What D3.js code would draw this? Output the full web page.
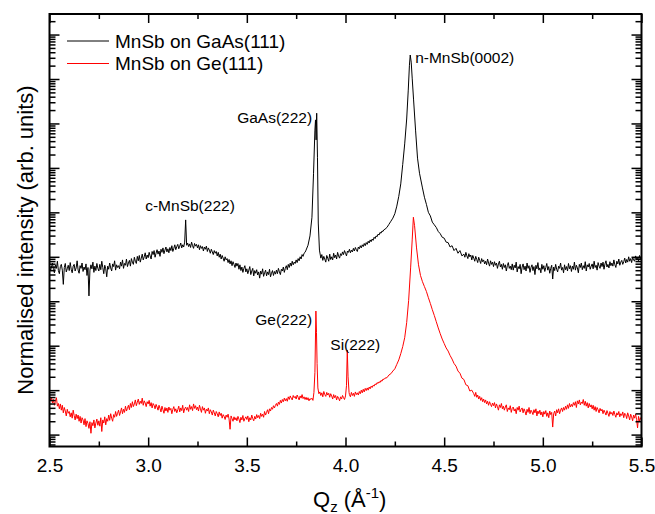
<!DOCTYPE html>
<html>
<head>
<meta charset="utf-8">
<script src="https://cdn.jsdelivr.net/npm/d3@7"></script>
<style>
  body { margin: 0; padding: 0; background: #fff; }
  svg text { font-family: "Liberation Sans", Arial, sans-serif; fill: #000; }
</style>
</head>
<body>
<svg id="chart" width="655" height="514"></svg>
<script>
// scans: [Qz (1/A), log10 of intensity (arb. units)]
var gaasScan = [
  [2.500,3.80],[2.505,3.68],[2.510,3.77],[2.515,3.86],[2.520,3.71],[2.525,3.64],[2.530,3.82],[2.535,3.74],[2.540,3.90],[2.545,3.69],
  [2.550,3.62],[2.555,3.78],[2.560,3.83],[2.565,3.70],[2.570,3.38],[2.575,3.76],[2.580,3.85],[2.585,3.66],[2.590,3.73],[2.595,3.81],
  [2.600,3.69],[2.605,3.87],[2.610,3.72],[2.615,3.64],[2.620,3.79],[2.625,3.83],[2.630,3.68],[2.635,3.75],[2.640,3.91],[2.645,3.70],
  [2.650,3.63],[2.655,3.80],[2.660,3.74],[2.665,3.86],[2.670,3.67],[2.675,3.77],[2.680,3.71],[2.685,3.84],[2.690,3.58],[2.695,3.76],
  [2.700,3.12],[2.705,3.70],[2.710,3.82],[2.715,3.73],[2.720,3.88],[2.725,3.65],[2.730,3.79],[2.735,3.69],[2.740,3.85],[2.745,3.74],
  [2.750,3.68],[2.755,3.83],[2.760,3.71],[2.765,3.90],[2.770,3.76],[2.775,3.62],[2.780,3.81],[2.785,3.73],[2.790,3.55],[2.795,3.79],
  [2.800,3.72],[2.805,3.86],[2.810,3.75],[2.815,3.68],[2.820,3.84],[2.825,3.78],[2.830,3.91],[2.835,3.70],[2.840,3.82],[2.845,3.76],
  [2.850,3.80],[2.855,3.73],[2.860,3.88],[2.865,3.79],[2.870,3.93],[2.875,3.74],[2.880,3.85],[2.885,3.81],[2.890,3.95],[2.895,3.78],
  [2.900,3.86],[2.905,3.92],[2.910,3.79],[2.915,3.96],[2.920,3.88],[2.925,3.83],[2.930,3.99],[2.935,3.90],[2.940,3.85],[2.945,4.01],
  [2.950,3.91],[2.955,4.03],[2.960,3.88],[2.965,3.97],[2.970,4.06],[2.975,3.93],[2.980,4.00],[2.985,4.09],[2.990,3.95],[2.995,4.04],
  [3.000,3.98],[3.005,4.10],[3.010,4.02],[3.015,3.95],[3.020,4.12],[3.025,4.05],[3.030,4.14],[3.035,3.99],[3.040,4.08],[3.045,4.16],
  [3.050,4.06],[3.055,4.13],[3.060,4.01],[3.065,4.17],[3.070,4.10],[3.075,4.20],[3.080,4.07],[3.085,4.15],[3.090,4.22],[3.095,4.11],
  [3.100,4.18],[3.105,4.09],[3.110,4.21],[3.115,4.14],[3.120,4.25],[3.125,4.12],[3.130,4.19],[3.135,4.27],[3.140,4.16],[3.145,4.23],
  [3.150,4.28],[3.155,4.18],[3.160,4.24],[3.165,4.31],[3.170,4.20],[3.175,4.27],[3.180,4.22],[3.185,4.33],[3.190,4.83],[3.195,4.26],
  [3.200,4.31],[3.205,4.23],[3.210,4.29],[3.215,4.21],[3.220,4.33],[3.225,4.25],[3.230,4.19],[3.235,4.30],[3.240,4.24],[3.245,4.28],
  [3.250,4.20],[3.255,4.27],[3.260,4.16],[3.265,4.25],[3.270,4.19],[3.275,4.23],[3.280,4.13],[3.285,4.22],[3.290,4.17],[3.295,4.24],
  [3.300,4.12],[3.305,4.20],[3.310,4.15],[3.315,4.08],[3.320,4.17],[3.325,4.11],[3.330,4.05],[3.335,4.14],[3.340,4.08],[3.345,4.12],
  [3.350,4.02],[3.355,4.10],[3.360,3.99],[3.365,4.06],[3.370,3.95],[3.375,4.03],[3.380,3.97],[3.385,3.90],[3.390,4.00],[3.395,3.93],
  [3.400,3.96],[3.405,3.87],[3.410,3.94],[3.415,3.84],[3.420,3.91],[3.425,3.80],[3.430,3.89],[3.435,3.83],[3.440,3.76],[3.445,3.86],
  [3.450,3.79],[3.455,3.85],[3.460,3.72],[3.465,3.82],[3.470,3.69],[3.475,3.77],[3.480,3.65],[3.485,3.74],[3.490,3.80],[3.495,3.66],
  [3.500,3.73],[3.505,3.62],[3.510,3.70],[3.515,3.78],[3.520,3.60],[3.525,3.68],[3.530,3.74],[3.535,3.57],[3.540,3.69],[3.545,3.63],
  [3.550,3.71],[3.555,3.59],[3.560,3.66],[3.565,3.52],[3.570,3.68],[3.575,3.61],[3.580,3.73],[3.585,3.56],[3.590,3.64],[3.595,3.70],
  [3.600,3.57],[3.605,3.66],[3.610,3.60],[3.615,3.72],[3.620,3.55],[3.625,3.63],[3.630,3.69],[3.635,3.58],[3.640,3.67],[3.645,3.61],
  [3.650,3.70],[3.655,3.62],[3.660,3.74],[3.665,3.66],[3.670,3.60],[3.675,3.72],[3.680,3.68],[3.685,3.77],[3.690,3.65],[3.695,3.74],
  [3.700,3.80],[3.705,3.71],[3.710,3.83],[3.715,3.76],[3.720,3.86],[3.725,3.79],[3.730,3.90],[3.735,3.82],[3.740,3.88],[3.745,3.85],
  [3.750,3.93],[3.755,3.87],[3.760,3.96],[3.765,3.91],[3.770,4.00],[3.775,3.95],[3.780,4.05],[3.785,4.01],[3.790,4.08],[3.795,4.10],
  [3.800,4.15],[3.810,4.26],[3.820,4.47],[3.830,4.89],[3.838,5.88],[3.845,6.85],[3.848,7.08],[3.851,6.63],[3.854,7.23],[3.858,6.24],
  [3.862,4.76],[3.868,4.15],[3.875,3.97],
  [3.880,4.05],[3.885,3.92],[3.890,4.01],[3.895,3.95],[3.900,3.88],[3.905,4.03],[3.910,3.97],[3.915,3.90],[3.920,4.06],[3.925,3.94],
  [3.930,4.00],[3.935,3.93],[3.940,4.08],[3.945,3.98],[3.950,4.04],[3.955,3.95],[3.960,4.10],[3.965,4.02],[3.970,3.97],[3.975,4.07],
  [3.980,4.03],[3.985,4.11],[3.990,4.05],[3.995,4.14],[4.000,4.08],[4.005,4.02],[4.010,4.13],[4.015,4.10],[4.020,4.17],[4.025,4.09],
  [4.030,4.15],[4.035,4.11],[4.040,4.19],[4.045,4.13],[4.050,4.21],[4.055,4.16],[4.060,4.12],[4.065,4.22],[4.070,4.18],[4.075,4.25],
  [4.080,4.20],[4.085,4.27],[4.090,4.23],[4.095,4.30],[4.100,4.25],[4.105,4.32],[4.110,4.28],[4.115,4.35],[4.120,4.31],[4.125,4.38],
  [4.130,4.34],[4.135,4.40],[4.140,4.37],[4.145,4.44],[4.150,4.41],[4.155,4.47],[4.160,4.45],[4.165,4.51],[4.170,4.49],[4.175,4.55],
  [4.180,4.53],[4.185,4.58],[4.190,4.57],[4.195,4.61],
  [4.20,4.62],[4.21,4.66],[4.22,4.73],[4.23,4.80],[4.24,4.87],[4.25,4.97],[4.26,5.14],[4.27,5.36],[4.28,5.64],[4.29,6.08],
  [4.30,6.54],[4.31,7.10],[4.318,7.75],[4.324,8.31],[4.328,8.54],[4.333,8.38],[4.338,8.02],[4.345,7.53],[4.355,6.85],[4.365,6.22],
  [4.375,5.88],[4.39,5.55],[4.40,5.34],[4.41,5.18],[4.42,5.00],[4.43,4.92],[4.44,4.78],[4.45,4.72],[4.46,4.66],[4.47,4.57],
  [4.48,4.52],[4.49,4.44],[4.50,4.42],[4.51,4.33],[4.52,4.32],[4.53,4.22],[4.54,4.25],[4.55,4.14],[4.56,4.19],[4.57,4.08],
  [4.58,4.14],[4.59,4.02],
  [4.600,4.06],[4.605,3.99],[4.610,4.10],[4.615,4.02],[4.620,3.96],[4.625,4.07],[4.630,4.00],[4.635,4.04],[4.640,3.93],[4.645,4.03],
  [4.650,3.97],[4.655,3.90],[4.660,4.01],[4.665,3.94],[4.670,3.87],[4.675,3.99],[4.680,3.92],[4.685,3.85],[4.690,3.96],[4.695,3.89],
  [4.700,3.93],[4.705,3.84],[4.710,3.90],[4.715,3.82],[4.720,3.95],[4.725,3.86],[4.730,3.79],[4.735,3.91],[4.740,3.83],[4.745,3.88],
  [4.750,3.78],[4.755,3.89],[4.760,3.81],[4.765,3.86],[4.770,3.74],[4.775,3.84],[4.780,3.90],[4.785,3.77],[4.790,3.83],[4.795,3.72],
  [4.800,3.85],[4.805,3.76],[4.810,3.82],[4.815,3.68],[4.820,3.80],[4.825,3.87],[4.830,3.74],[4.835,3.79],[4.840,3.71],[4.845,3.84],
  [4.850,3.70],[4.855,3.81],[4.860,3.75],[4.865,3.88],[4.870,3.66],[4.875,3.78],[4.880,3.73],[4.885,3.83],[4.890,3.62],[4.895,3.77],
  [4.900,3.84],[4.905,3.71],[4.910,3.79],[4.915,3.68],[4.920,3.86],[4.925,3.74],[4.930,3.80],[4.935,3.65],[4.940,3.76],[4.945,3.82],
  [4.950,3.69],[4.955,3.78],[4.960,3.60],[4.965,3.81],[4.970,3.73],[4.975,3.87],[4.980,3.70],[4.985,3.75],[4.990,3.64],[4.995,3.83],
  [5.000,3.72],[5.005,3.80],[5.010,3.67],[5.015,3.76],[5.020,3.85],[5.025,3.70],[5.030,3.78],[5.035,3.63],[5.040,3.74],[5.045,3.81],
  [5.050,3.50],[5.055,3.77],[5.060,3.69],[5.065,3.83],[5.070,3.72],[5.075,3.66],[5.080,3.79],[5.085,3.74],[5.090,3.86],[5.095,3.70],
  [5.100,3.76],[5.105,3.64],[5.110,3.82],[5.115,3.71],[5.120,3.78],[5.125,3.68],[5.130,3.85],[5.135,3.73],[5.140,3.80],[5.145,3.67],
  [5.150,3.79],[5.155,3.72],[5.160,3.88],[5.165,3.70],[5.170,3.81],[5.175,3.75],[5.180,3.64],[5.185,3.83],[5.190,3.76],[5.195,3.86],
  [5.200,3.71],[5.205,3.80],[5.210,3.74],[5.215,3.89],[5.220,3.68],[5.225,3.82],[5.230,3.77],[5.235,3.85],[5.240,3.72],[5.245,3.79],
  [5.250,3.84],[5.255,3.73],[5.260,3.90],[5.265,3.76],[5.270,3.81],[5.275,3.70],[5.280,3.87],[5.285,3.79],[5.290,3.74],[5.295,3.86],
  [5.300,3.78],[5.305,3.88],[5.310,3.72],[5.315,3.84],[5.320,3.91],[5.325,3.77],[5.330,3.83],[5.335,3.75],[5.340,3.89],[5.345,3.80],
  [5.350,3.86],[5.355,3.79],[5.360,3.93],[5.365,3.82],[5.370,3.76],[5.375,3.90],[5.380,3.84],[5.385,3.95],[5.390,3.81],[5.395,3.88],
  [5.400,3.92],[5.405,3.83],[5.410,3.89],[5.415,3.97],[5.420,3.86],[5.425,3.94],[5.430,3.88],[5.435,4.00],[5.440,3.90],[5.445,3.96],
  [5.450,3.87],[5.455,3.99],[5.460,3.93],[5.465,3.90],[5.470,4.02],[5.475,3.94],[5.480,3.98],[5.485,3.91],[5.490,4.03],[5.495,3.95],
  [5.500,3.99]
];

var geScan = [
  [2.500,0.88],[2.505,0.76],[2.510,0.84],[2.515,0.71],[2.520,0.79],[2.525,0.66],[2.530,0.75],[2.535,0.83],[2.540,0.64],[2.545,0.70],
  [2.550,0.58],[2.555,0.69],[2.560,0.55],[2.565,0.66],[2.570,0.49],[2.575,0.61],[2.580,0.53],[2.585,0.42],[2.590,0.57],[2.595,0.48],
  [2.600,0.52],[2.605,0.40],[2.610,0.49],[2.615,0.37],[2.620,0.55],[2.625,0.43],[2.630,0.33],[2.635,0.46],[2.640,0.36],[2.645,0.44],
  [2.650,0.30],[2.655,0.41],[2.660,0.26],[2.665,0.38],[2.670,0.33],[2.675,0.22],[2.680,0.36],[2.685,0.18],[2.690,0.31],[2.695,0.25],
  [2.700,0.14],[2.705,0.29],[2.710,0.03],[2.715,0.27],[2.720,0.20],[2.725,0.33],[2.730,0.15],[2.735,0.26],[2.740,0.35],[2.745,0.21],
  [2.750,0.31],[2.755,0.19],[2.760,0.38],[2.765,0.07],[2.770,0.33],[2.775,0.26],[2.780,0.40],[2.785,0.22],[2.790,0.36],[2.795,0.30],
  [2.800,0.44],[2.805,0.32],[2.810,0.47],[2.815,0.37],[2.820,0.30],[2.825,0.45],[2.830,0.39],[2.835,0.52],[2.840,0.41],[2.845,0.48],
  [2.850,0.55],[2.855,0.43],[2.860,0.51],[2.865,0.60],[2.870,0.47],[2.875,0.57],[2.880,0.50],[2.885,0.64],[2.890,0.53],[2.895,0.59],
  [2.900,0.66],[2.905,0.56],[2.910,0.70],[2.915,0.61],[2.920,0.74],[2.925,0.63],[2.930,0.69],[2.935,0.78],[2.940,0.65],[2.945,0.73],
  [2.950,0.80],[2.955,0.68],[2.960,0.75],[2.965,0.70],[2.970,0.82],[2.975,0.66],[2.980,0.76],[2.985,0.71],[2.990,0.63],[2.995,0.74],
  [3.000,0.69],[3.005,0.77],[3.010,0.64],[3.015,0.72],[3.020,0.60],[3.025,0.70],[3.030,0.66],[3.035,0.58],[3.040,0.68],[3.045,0.62],
  [3.050,0.55],[3.055,0.66],[3.060,0.59],[3.065,0.51],[3.070,0.64],[3.075,0.56],[3.080,0.48],[3.085,0.61],[3.090,0.53],[3.095,0.60],
  [3.100,0.50],[3.105,0.62],[3.110,0.55],[3.115,0.59],[3.120,0.47],[3.125,0.57],[3.130,0.63],[3.135,0.52],[3.140,0.58],[3.145,0.49],
  [3.150,0.56],[3.155,0.64],[3.160,0.51],[3.165,0.60],[3.170,0.54],[3.175,0.66],[3.180,0.49],[3.185,0.58],[3.190,0.62],[3.195,0.55],
  [3.200,0.61],[3.205,0.52],[3.210,0.67],[3.215,0.57],[3.220,0.63],[3.225,0.54],[3.230,0.69],[3.235,0.59],[3.240,0.65],[3.245,0.56],
  [3.250,0.62],[3.255,0.53],[3.260,0.66],[3.265,0.58],[3.270,0.50],[3.275,0.63],[3.280,0.55],[3.285,0.60],[3.290,0.48],[3.295,0.57],
  [3.300,0.53],[3.305,0.60],[3.310,0.47],[3.315,0.56],[3.320,0.51],[3.325,0.44],[3.330,0.55],[3.335,0.49],[3.340,0.42],[3.345,0.52],
  [3.350,0.47],[3.355,0.40],[3.360,0.51],[3.365,0.43],[3.370,0.48],[3.375,0.37],[3.380,0.45],[3.385,0.41],[3.390,0.34],[3.395,0.44],
  [3.400,0.39],[3.405,0.46],[3.410,0.35],[3.415,0.12],[3.420,0.42],[3.425,0.36],[3.430,0.30],[3.435,0.40],[3.440,0.33],[3.445,0.38],
  [3.450,0.31],[3.455,0.41],[3.460,0.35],[3.465,0.27],[3.470,0.39],[3.475,0.33],[3.480,0.43],[3.485,0.30],[3.490,0.36],[3.495,0.40],
  [3.500,0.34],[3.505,0.42],[3.510,0.29],[3.515,0.38],[3.520,0.33],[3.525,0.44],[3.530,0.36],[3.535,0.31],[3.540,0.41],[3.545,0.35],
  [3.550,0.45],[3.555,0.38],[3.560,0.43],[3.565,0.36],[3.570,0.48],[3.575,0.41],[3.580,0.46],[3.585,0.39],[3.590,0.52],[3.595,0.44],
  [3.600,0.50],[3.605,0.56],[3.610,0.47],[3.615,0.58],[3.620,0.53],[3.625,0.61],[3.630,0.57],[3.635,0.65],[3.640,0.60],[3.645,0.66],
  [3.650,0.70],[3.655,0.64],[3.660,0.73],[3.665,0.68],[3.670,0.77],[3.675,0.71],[3.680,0.79],[3.685,0.74],[3.690,0.82],[3.695,0.76],
  [3.700,0.81],[3.705,0.75],[3.710,0.85],[3.715,0.79],[3.720,0.87],[3.725,0.82],[3.730,0.78],[3.735,0.88],[3.740,0.83],[3.745,0.86],
  [3.750,0.80],[3.755,0.89],[3.760,0.84],[3.765,0.78],[3.770,0.87],[3.775,0.82],[3.780,0.90],[3.785,0.81],[3.790,0.85],[3.795,0.79],
  [3.800,0.84],[3.805,0.78],[3.810,0.83],[3.815,0.76],[3.820,0.81],[3.825,0.79],[3.830,0.82],[3.835,0.77],
  [3.840,0.95],[3.845,1.40],[3.850,2.78],[3.853,2.30],[3.856,1.60],[3.860,1.05],[3.865,0.92],
  [3.870,0.96],[3.875,0.88],[3.880,0.94],[3.885,0.85],[3.890,0.97],[3.895,0.90],[3.900,0.86],[3.905,0.95],[3.910,0.89],[3.915,0.93],
  [3.920,0.84],[3.925,0.92],[3.930,0.87],[3.935,0.80],[3.940,0.90],[3.945,0.83],[3.950,0.88],[3.955,0.78],[3.960,0.86],[3.965,0.82],
  [3.970,0.76],[3.975,0.85],[3.980,0.80],[3.985,0.88],[3.990,0.83],[3.995,0.79],[4.000,0.87],
  [4.005,1.10],[4.009,1.90],[4.013,1.30],[4.018,0.95],
  [4.020,0.90],[4.025,0.85],[4.030,0.95],[4.035,0.88],[4.040,0.93],[4.045,0.86],[4.050,0.96],[4.055,0.90],[4.060,0.94],[4.065,0.89],
  [4.070,0.97],[4.075,0.92],[4.080,1.00],[4.085,0.94],[4.090,1.02],[4.095,0.96],[4.100,1.04],[4.105,0.99],[4.110,1.05],[4.115,1.00],
  [4.120,1.07],[4.125,1.03],[4.130,1.09],[4.135,1.06],[4.140,1.11],[4.145,1.09],[4.150,1.14],[4.155,1.12],[4.160,1.17],[4.165,1.15],
  [4.170,1.19],[4.175,1.17],[4.180,1.22],[4.185,1.20],[4.190,1.25],[4.195,1.24],
  [4.20,1.27],[4.21,1.28],[4.22,1.34],[4.23,1.37],[4.24,1.43],[4.25,1.48],[4.26,1.58],[4.27,1.68],[4.28,1.82],[4.29,1.98],
  [4.30,2.18],[4.31,2.52],[4.32,3.02],[4.33,3.75],[4.338,4.38],[4.344,4.89],[4.35,4.70],[4.36,4.20],[4.37,3.82],[4.38,3.58],
  [4.39,3.44],[4.40,3.33],[4.41,3.22],[4.42,3.08],[4.43,2.95],[4.44,2.81],[4.45,2.68],[4.46,2.54],[4.47,2.40],[4.48,2.27],
  [4.49,2.15],[4.50,2.05],[4.51,1.95],[4.52,1.88],[4.53,1.78],[4.54,1.70],[4.55,1.60],[4.56,1.54],[4.57,1.43],[4.58,1.38],
  [4.59,1.27],[4.60,1.24],[4.61,1.12],[4.62,1.10],[4.63,0.98],[4.64,1.00],
  [4.650,0.92],[4.655,0.86],[4.660,0.95],[4.665,0.84],[4.670,0.89],[4.675,0.80],[4.680,0.86],[4.685,0.77],[4.690,0.83],[4.695,0.74],
  [4.700,0.80],[4.705,0.72],[4.710,0.78],[4.715,0.69],[4.720,0.75],[4.725,0.66],[4.730,0.74],[4.735,0.68],[4.740,0.63],[4.745,0.71],
  [4.750,0.65],[4.755,0.72],[4.760,0.60],[4.765,0.69],[4.770,0.63],[4.775,0.55],[4.780,0.67],[4.785,0.61],[4.790,0.70],[4.795,0.58],
  [4.800,0.64],[4.805,0.55],[4.810,0.62],[4.815,0.67],[4.820,0.52],[4.825,0.60],[4.830,0.56],[4.835,0.65],[4.840,0.50],[4.845,0.59],
  [4.850,0.62],[4.855,0.53],[4.860,0.58],[4.865,0.47],[4.870,0.61],[4.875,0.55],[4.880,0.64],[4.885,0.51],[4.890,0.57],[4.895,0.60],
  [4.900,0.49],[4.905,0.58],[4.910,0.52],[4.915,0.44],[4.920,0.57],[4.925,0.50],[4.930,0.61],[4.935,0.47],[4.940,0.55],[4.945,0.51],
  [4.950,0.45],[4.955,0.56],[4.960,0.49],[4.965,0.58],[4.970,0.42],[4.975,0.53],[4.980,0.47],[4.985,0.55],[4.990,0.44],[4.995,0.51],
  [5.000,0.40],[5.005,0.52],[5.010,0.46],[5.015,0.54],[5.020,0.41],[5.025,0.49],[5.030,0.38],[5.035,0.53],[5.040,0.45],[5.045,0.50],
  [5.050,0.17],[5.055,0.47],[5.060,0.53],[5.065,0.42],[5.070,0.56],[5.075,0.49],[5.080,0.58],[5.085,0.47],[5.090,0.55],[5.095,0.60],
  [5.100,0.52],[5.105,0.61],[5.110,0.55],[5.115,0.64],[5.120,0.57],[5.125,0.67],[5.130,0.59],[5.135,0.70],[5.140,0.62],[5.145,0.68],
  [5.150,0.63],[5.155,0.72],[5.160,0.66],[5.165,0.74],[5.170,0.61],[5.175,0.76],[5.180,0.69],[5.185,0.78],[5.190,0.67],[5.195,0.73],
  [5.200,0.70],[5.205,0.79],[5.210,0.66],[5.215,0.75],[5.220,0.64],[5.225,0.72],[5.230,0.60],[5.235,0.70],[5.240,0.62],[5.245,0.67],
  [5.250,0.58],[5.255,0.66],[5.260,0.55],[5.265,0.63],[5.270,0.52],[5.275,0.61],[5.280,0.56],[5.285,0.49],[5.290,0.59],[5.295,0.53],
  [5.300,0.57],[5.305,0.47],[5.310,0.55],[5.315,0.50],[5.320,0.44],[5.325,0.54],[5.330,0.48],[5.335,0.41],[5.340,0.52],[5.345,0.46],
  [5.350,0.50],[5.355,0.43],[5.360,0.53],[5.365,0.45],[5.370,0.39],[5.375,0.49],[5.380,0.44],[5.385,0.52],[5.390,0.40],[5.395,0.47],
  [5.400,0.43],[5.405,0.51],[5.410,0.38],[5.415,0.48],[5.420,0.45],[5.425,0.36],[5.430,0.49],[5.435,0.42],[5.440,0.33],[5.445,0.46],
  [5.450,0.40],[5.455,0.31],[5.460,0.44],[5.465,0.37],[5.470,0.46],[5.475,0.34],[5.480,0.15],[5.485,0.41],[5.490,0.30],[5.495,0.38],
  [5.500,0.33]
];

var seriesNames = ["MnSb on GaAs(111)", "MnSb on Ge(111)"];
var seriesColors = ["#000000", "#ff0000"];
var xTickValues = [2.5, 3.0, 3.5, 4.0, 4.5, 5.0, 5.5];
var xMinorValues = [2.75, 3.25, 3.75, 4.25, 4.75, 5.25];
var decades = [0, 1, 2, 3, 4, 5, 6, 7, 8, 9];
// peak labels: text, Qz and log10 intensity of the text anchor, anchor side
var peakLabels = [
  ["n-MnSb(0002)", 4.353, 8.36, "start"],
  ["GaAs(222)", 3.831, 7.01, "end"],
  ["c-MnSb(222)", 2.985, 5.03, "start"],
  ["Ge(222)", 3.831, 2.46, "end"],
  ["Si(222)", 3.923, 1.90, "start"]
];

var plotL = 49.5, plotR = 641.5, plotT = 14, plotB = 446.5;
var svg = d3.select("#chart");

var x = d3.scaleLinear().domain([2.5, 5.5]).range([plotL, plotR]);
var y = d3.scaleLog().domain([0.54, 2.9e9]).range([plotB, plotT]);

function pow10(v) { return Math.pow(10, v); }

var majorY = decades.map(pow10);
var minorY = [];
[-1].concat(decades).forEach(function (n) {
  for (var k = 2; k <= 9; k++) {
    var v = k * pow10(n);
    if (v > y.domain()[0] && v < y.domain()[1]) minorY.push(v);
  }
});

svg.append("clipPath").attr("id", "plotClip")
  .append("rect").attr("x", plotL).attr("y", plotT)
  .attr("width", plotR - plotL).attr("height", plotB - plotT);

var line = d3.line()
  .x(function (d) { return x(d[0]); })
  .y(function (d) { return y(pow10(d[1])); });

var plot = svg.append("g").attr("clip-path", "url(#plotClip)");
plot.append("path")
  .datum(geScan)
  .attr("fill", "none")
  .attr("stroke", seriesColors[1])
  .attr("stroke-width", 1)
  .attr("d", line);
plot.append("path")
  .datum(gaasScan)
  .attr("fill", "none")
  .attr("stroke", seriesColors[0])
  .attr("stroke-width", 1)
  .attr("d", line);

// axes, ticks pointing inward on all four sides
function styleAxis(g) {
  g.select(".domain").remove();
  g.selectAll(".tick line").attr("stroke", "#000").attr("stroke-width", 1.5);
}
var xAxisG = svg.append("g").attr("transform", "translate(0," + plotB + ")")
  .call(d3.axisBottom(x).tickValues(xTickValues).tickSizeInner(-9).tickSizeOuter(0)
    .tickPadding(12).tickFormat(d3.format(".1f")))
  .call(styleAxis);
xAxisG.attr("font-family", null).attr("font-size", null);
xAxisG.selectAll("text").style("font-size", "19px");

svg.append("g").attr("transform", "translate(0," + plotB + ")")
  .call(d3.axisBottom(x).tickValues(xMinorValues).tickSizeInner(-5).tickSizeOuter(0).tickFormat(""))
  .call(styleAxis);
svg.append("g").attr("transform", "translate(0," + plotT + ")")
  .call(d3.axisTop(x).tickValues(xTickValues).tickSizeInner(-9).tickSizeOuter(0).tickFormat(""))
  .call(styleAxis);
svg.append("g").attr("transform", "translate(0," + plotT + ")")
  .call(d3.axisTop(x).tickValues(xMinorValues).tickSizeInner(-5).tickSizeOuter(0).tickFormat(""))
  .call(styleAxis);
svg.append("g").attr("transform", "translate(" + plotL + ",0)")
  .call(d3.axisLeft(y).tickValues(majorY).tickSizeInner(-10).tickSizeOuter(0).tickFormat(""))
  .call(styleAxis);
svg.append("g").attr("transform", "translate(" + plotL + ",0)")
  .call(d3.axisLeft(y).tickValues(minorY).tickSizeInner(-6).tickSizeOuter(0).tickFormat(""))
  .call(styleAxis);
svg.append("g").attr("transform", "translate(" + plotR + ",0)")
  .call(d3.axisRight(y).tickValues(majorY).tickSizeInner(-10).tickSizeOuter(0).tickFormat(""))
  .call(styleAxis);
svg.append("g").attr("transform", "translate(" + plotR + ",0)")
  .call(d3.axisRight(y).tickValues(minorY).tickSizeInner(-6).tickSizeOuter(0).tickFormat(""))
  .call(styleAxis);

svg.append("rect")
  .attr("x", plotL).attr("y", plotT)
  .attr("width", plotR - plotL).attr("height", plotB - plotT)
  .attr("fill", "none").attr("stroke", "#000").attr("stroke-width", 2);

// axis titles
var xt = svg.append("text").attr("x", 313).attr("y", 507).style("font-size", "22px");
xt.append("tspan").text("Q");
xt.append("tspan").attr("dy", 5).style("font-size", "15px").text("z");
xt.append("tspan").attr("dy", -5).text(" (\u00C5");
xt.append("tspan").attr("dy", -9).style("font-size", "15px").text("-1");
xt.append("tspan").attr("dy", 9).text(")");

svg.append("text")
  .attr("transform", "translate(33,240) rotate(-90)")
  .attr("text-anchor", "middle")
  .style("font-size", "22px")
  .text("Normalised intensity (arb. units)");

// legend
seriesNames.forEach(function (name, i) {
  var ly = 41 + i * 22.5;
  svg.append("line")
    .attr("x1", 67).attr("x2", 109).attr("y1", ly).attr("y2", ly)
    .attr("stroke", seriesColors[i]).attr("stroke-width", 1);
  svg.append("text")
    .attr("x", 115).attr("y", ly + 6.5)
    .style("font-size", "19px")
    .text(name);
});

// peak labels
svg.selectAll(".peak")
  .data(peakLabels)
  .enter().append("text")
  .attr("class", "peak")
  .attr("x", function (d) { return x(d[1]); })
  .attr("y", function (d) { return y(pow10(d[2])); })
  .attr("text-anchor", function (d) { return d[3]; })
  .style("font-size", "15.5px")
  .text(function (d) { return d[0]; });
</script>
</body>
</html>
